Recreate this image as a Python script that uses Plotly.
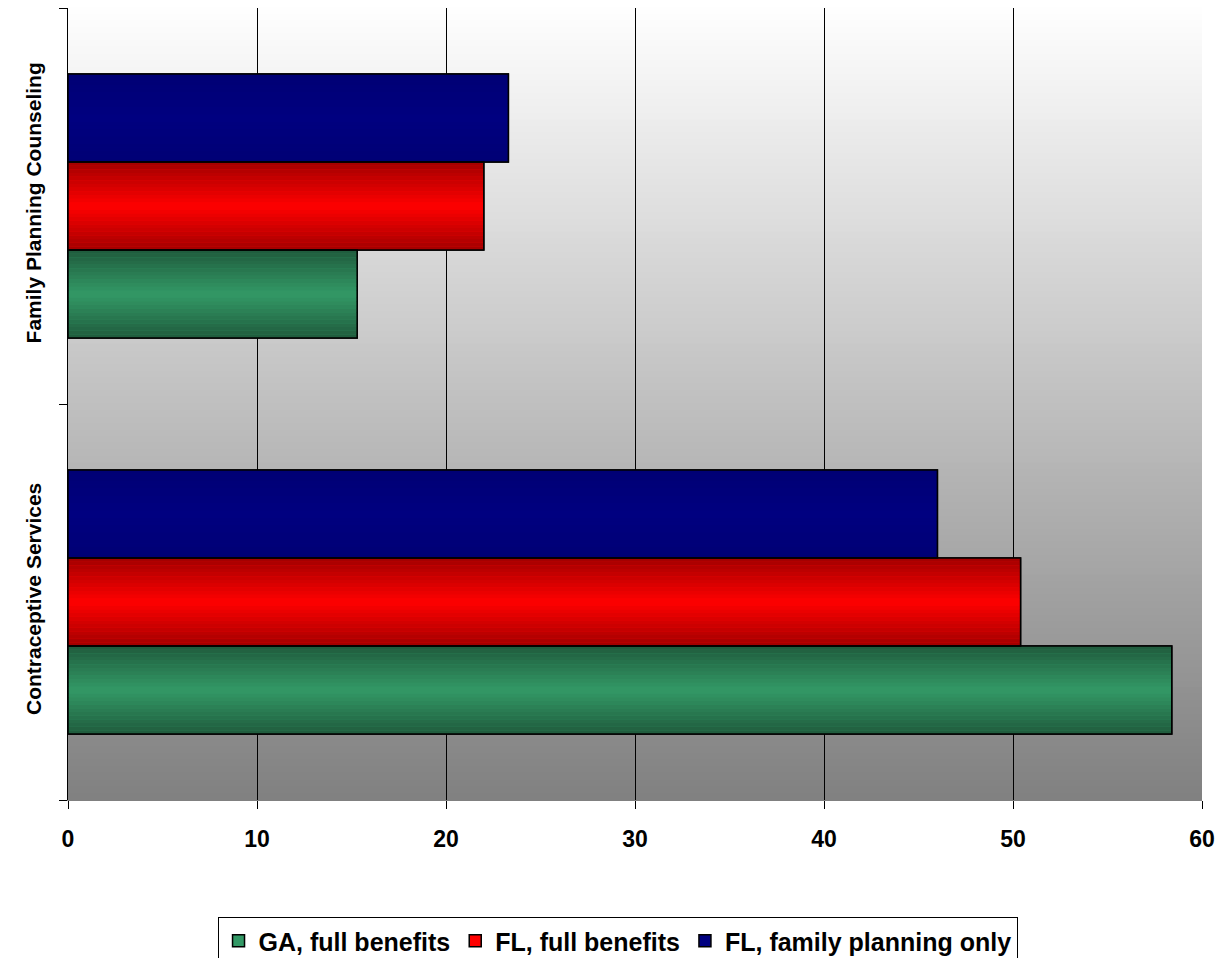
import plotly.graph_objects as go

categories = ["Contraceptive Services", "Family Planning Counseling"]
series_names = ["GA, full benefits", "FL, full benefits", "FL, family planning only"]
ga_full = [58.4, 15.3]
fl_full = [50.4, 22.0]
fl_fp = [46.0, 23.3]
series_values = [ga_full, fl_full, fl_fp]

edge_colors = [(0x1F, 0x5A, 0x3C), (0xA0, 0x00, 0x00), (0x00, 0x00, 0x74)]
mid_colors = [(0x33, 0x99, 0x66), (0xFF, 0x00, 0x00), (0x00, 0x00, 0x80)]

def rgb(c):
    return "rgb(%d,%d,%d)" % c

def mix(a, b, t):
    return tuple(int(round(a[i] + (b[i] - a[i]) * t)) for i in range(3))

bar_w = 1 / 4.5
start = -1.5 * bar_w
N = 24
FONT = "Liberation Sans, Arial, sans-serif"

fig = go.Figure()

# legend / base bars
for i, (name, vals) in enumerate(zip(series_names, series_values)):
    fig.add_trace(go.Bar(
        y=categories, x=vals, orientation="h", name="<b>" + name + "</b>",
        width=bar_w, offset=start + i * bar_w,
        marker=dict(color=rgb(mid_colors[i]), line=dict(color="black", width=1.5)),
        showlegend=True,
    ))

# gradient slices
for i, vals in enumerate(series_values):
    for k in range(N):
        t = 1 - abs((k + 0.5) / N - 0.5) * 2  # 0 at edge, 1 at center
        col = mix(edge_colors[i], mid_colors[i], t)
        fig.add_trace(go.Bar(
            y=categories, x=vals, orientation="h",
            width=bar_w / N * 1.02, offset=start + i * bar_w + k * bar_w / N,
            marker=dict(color=rgb(col), line=dict(width=0)),
            showlegend=False, hoverinfo="skip",
        ))

# outlines
for i, vals in enumerate(series_values):
    fig.add_trace(go.Bar(
        y=categories, x=vals, orientation="h",
        width=bar_w, offset=start + i * bar_w,
        marker=dict(color="rgba(0,0,0,0)", line=dict(color="black", width=1.5)),
        showlegend=False, hoverinfo="skip",
    ))

# background gradient (white top -> gray bottom)
shapes = []
M = 120
for j in range(M):
    t = (j + 0.5) / M
    g = int(round(255 - (255 - 128) * t))
    shapes.append(dict(
        type="rect", xref="x domain", yref="y domain",
        x0=0, x1=1, y0=1 - (j + 1) / M, y1=1 - j / M + 0.001,
        fillcolor="rgb(%d,%d,%d)" % (g, g, g), line=dict(width=0), layer="below",
    ))

fig.update_layout(
    width=1227, height=958,
    margin=dict(l=68, r=25, t=8, b=158),
    barmode="overlay",
    paper_bgcolor="white", plot_bgcolor="rgba(0,0,0,0)",
    shapes=shapes,
    font=dict(family=FONT, color="black"),
    legend=dict(
        orientation="h", x=0.4846, xanchor="center",
        yref="container", y=1 - 917 / 958, yanchor="top",
        bordercolor="black", borderwidth=1, bgcolor="white",
        font=dict(size=25, family=FONT),
        traceorder="normal", itemwidth=30,
    ),
    xaxis=dict(
        range=[0, 60], dtick=10, tick0=0,
        showgrid=True, gridcolor="black", gridwidth=1, zeroline=False,
        showline=True, linecolor="#808080", linewidth=1,
        ticks="outside", ticklen=8, tickcolor="black",
        ticklabelstandoff=10,
        tickfont=dict(size=23, family=FONT),
        tickprefix="<b>", ticksuffix="</b>",
    ),
    yaxis=dict(
        type="category", range=[-0.5, 1.5],
        showgrid=False, zeroline=False,
        showline=True, linecolor="black", linewidth=1,
        ticks="outside", ticklen=8, tickcolor="black", tickson="boundaries",
        tickangle=-90, ticklabelstandoff=18,
        tickfont=dict(size=21, family=FONT),
        tickprefix="<b>", ticksuffix="</b>",
    ),
)

fig.write_html("out.html")
